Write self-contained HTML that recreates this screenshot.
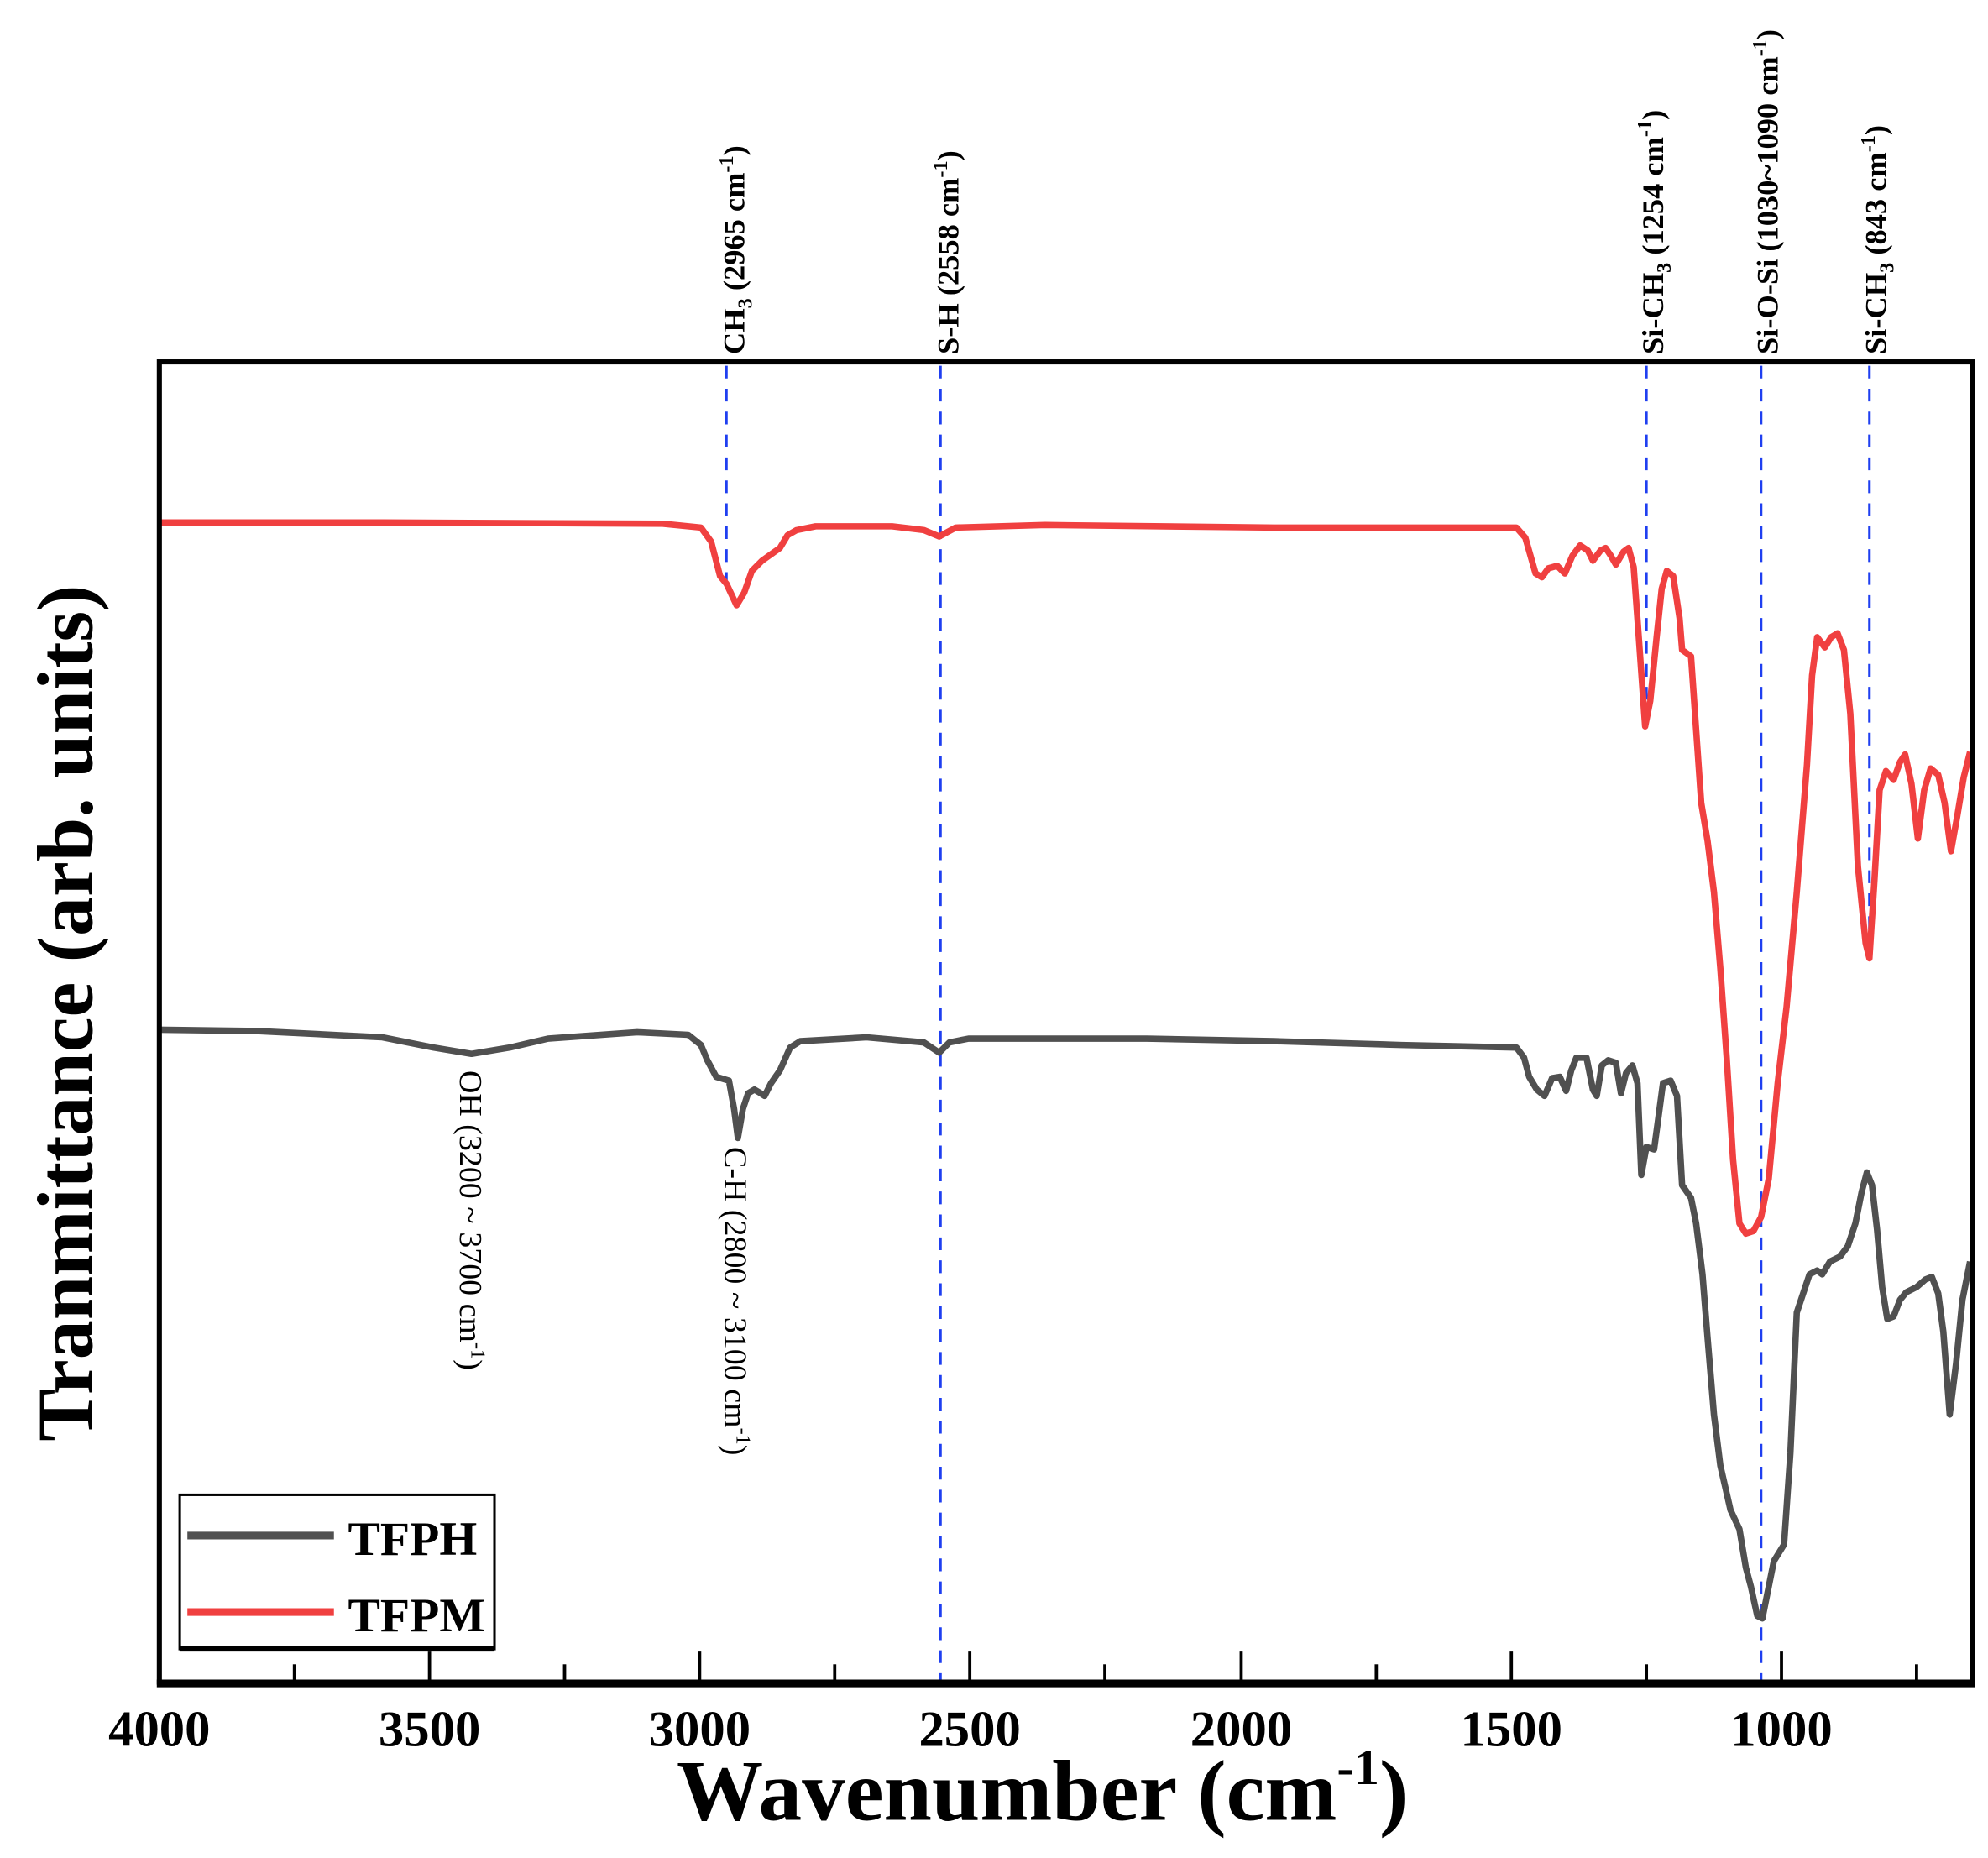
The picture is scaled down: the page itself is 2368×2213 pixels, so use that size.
<!DOCTYPE html>
<html><head><meta charset="utf-8"><style>html,body{margin:0;padding:0;background:#fff}svg{display:block}</style></head>
<body>
<svg width="2368" height="2213" viewBox="0 0 1560 1458" xmlns="http://www.w3.org/2000/svg" font-family="'Liberation Serif', serif">
<rect width="1560" height="1458" fill="#fff"/>
<g stroke="#1f3ff0" stroke-width="2" stroke-dasharray="10,8" fill="none">
<line x1="570" y1="287" x2="570" y2="462"/>
<line x1="738" y1="287" x2="738" y2="1320"/>
<line x1="1292" y1="287" x2="1292" y2="572"/>
<line x1="1382" y1="287" x2="1382" y2="1320"/>
<line x1="1467" y1="287" x2="1467" y2="752"/>
</g>
<polyline fill="none" stroke="#f04040" stroke-width="5" stroke-linejoin="round" points="125,410 300,410 520,411 550,414 558,425 565,452 570,458 578,475 584,465 590,448 598,440 605,435 612,430 618,420 625,416 640,413 700,413 725,416 737,421 750,414 820,412 1000,414 1190,414 1197,422 1205,450 1210,453 1215,446 1222,444 1228,450 1234,436 1240,428 1246,432 1250,440 1256,432 1260,430 1264,436 1268,443 1274,433 1278,430 1282,445 1286,500 1291,570 1295,550 1300,500 1304,462 1308,448 1313,452 1318,485 1320,510 1327,515 1335,630 1340,660 1345,700 1350,760 1355,830 1360,910 1365,960 1370,968 1376,966 1382,955 1388,925 1395,850 1402,790 1410,700 1418,600 1422,530 1426,500 1432,508 1437,500 1442,497 1447,510 1452,560 1458,680 1464,740 1467,752 1471,690 1475,620 1480,605 1486,612 1491,598 1495,592 1500,615 1505,658 1510,620 1515,603 1521,608 1526,630 1531,668 1536,640 1541,610 1546,590"/>
<polyline fill="none" stroke="#505050" stroke-width="5" stroke-linejoin="round" points="125,808 200,809 300,814 340,822 370,827 400,822 430,815 500,810 540,812 550,820 555,832 562,845 572,848 576,870 579,893 583,870 587,858 592,855 597,858 600,860 605,850 612,840 620,822 628,817 680,814 725,818 737,826 745,818 760,815 900,815 1000,817 1100,820 1190,822 1196,830 1200,845 1206,855 1212,860 1218,846 1224,845 1229,856 1233,840 1237,830 1245,830 1250,855 1253,860 1257,836 1262,832 1268,834 1272,858 1276,842 1281,836 1285,850 1288,922 1292,900 1298,902 1301,880 1305,850 1311,848 1316,860 1320,930 1327,940 1331,960 1336,1000 1340,1050 1345,1110 1350,1150 1358,1185 1365,1200 1370,1230 1374,1245 1379,1268 1383,1270 1388,1245 1392,1225 1400,1212 1405,1140 1410,1030 1415,1015 1420,1000 1426,997 1430,1000 1436,990 1444,986 1450,978 1456,960 1461,935 1465,920 1469,930 1473,965 1477,1010 1481,1035 1486,1033 1491,1020 1496,1014 1504,1010 1511,1004 1516,1002 1521,1015 1525,1045 1530,1110 1535,1070 1540,1020 1546,990"/>
<rect x="125" y="284" width="1423" height="1036" fill="none" stroke="#000" stroke-width="4"/>
<line x1="123" y1="1321" x2="1550" y2="1321" stroke="#000" stroke-width="6"/>
<g stroke="#000" stroke-width="2.5">
<line x1="337" y1="1318" x2="337" y2="1296"/><line x1="549" y1="1318" x2="549" y2="1296"/><line x1="761" y1="1318" x2="761" y2="1296"/><line x1="974" y1="1318" x2="974" y2="1296"/><line x1="1186" y1="1318" x2="1186" y2="1296"/><line x1="1398" y1="1318" x2="1398" y2="1296"/>
<line x1="231" y1="1318" x2="231" y2="1306"/><line x1="443" y1="1318" x2="443" y2="1306"/><line x1="655" y1="1318" x2="655" y2="1306"/><line x1="867" y1="1318" x2="867" y2="1306"/><line x1="1080" y1="1318" x2="1080" y2="1306"/><line x1="1292" y1="1318" x2="1292" y2="1306"/><line x1="1504" y1="1318" x2="1504" y2="1306"/>
</g>
<g font-size="40" font-weight="bold" text-anchor="middle">
<text x="125" y="1370">4000</text><text x="337" y="1370">3500</text><text x="549" y="1370">3000</text><text x="761" y="1370">2500</text><text x="974" y="1370">2000</text><text x="1186" y="1370">1500</text><text x="1398" y="1370">1000</text>
</g>
<text x="818" y="1428" font-size="68" font-weight="bold" text-anchor="middle">Wavenumber (cm<tspan font-size="40" dy="-28">-1</tspan><tspan dy="28">)</tspan></text>
<text transform="translate(72,795) rotate(-90)" font-size="62" font-weight="bold" text-anchor="middle">Tranmittance (arb. units)</text>
<rect x="141" y="1173" width="247" height="121" fill="#fff" stroke="#000" stroke-width="2"/>
<line x1="141" y1="1294" x2="388" y2="1294" stroke="#000" stroke-width="4"/>
<line x1="147" y1="1205" x2="262" y2="1205" stroke="#505050" stroke-width="6"/>
<line x1="147" y1="1265" x2="262" y2="1265" stroke="#f04040" stroke-width="6"/>
<text x="273" y="1220" font-size="38" font-weight="bold">TFPH</text>
<text x="273" y="1280" font-size="38" font-weight="bold">TFPM</text>
<g font-size="24" font-weight="bold">
<text transform="translate(584,278) rotate(-90)">CH<tspan font-size="16" dy="6">3</tspan><tspan dy="-6"> (2965 cm</tspan><tspan font-size="16" dy="-9">-1</tspan><tspan dy="9">)</tspan></text>
<text transform="translate(752,278) rotate(-90)">S-H (2558 cm<tspan font-size="16" dy="-9">-1</tspan><tspan dy="9">)</tspan></text>
<text transform="translate(1305,278) rotate(-90)">Si-CH<tspan font-size="16" dy="6">3</tspan><tspan dy="-6"> (1254 cm</tspan><tspan font-size="16" dy="-9">-1</tspan><tspan dy="9">)</tspan></text>
<text transform="translate(1395,278) rotate(-90)">Si-O-Si (1030~1090 cm<tspan font-size="16" dy="-9">-1</tspan><tspan dy="9">)</tspan></text>
<text transform="translate(1480,278) rotate(-90)">Si-CH<tspan font-size="16" dy="6">3</tspan><tspan dy="-6"> (843 cm</tspan><tspan font-size="16" dy="-9">-1</tspan><tspan dy="9">)</tspan></text>
</g>
<g font-size="25">
<text transform="translate(361,840) rotate(90)">OH (3200 ~ 3700 cm<tspan font-size="16" dy="-9">-1</tspan><tspan dy="9">)</tspan></text>
<text transform="translate(569,900) rotate(90)">C-H (2800 ~ 3100 cm<tspan font-size="16" dy="-9">-1</tspan><tspan dy="9">)</tspan></text>
</g>
</svg>
</body></html>
